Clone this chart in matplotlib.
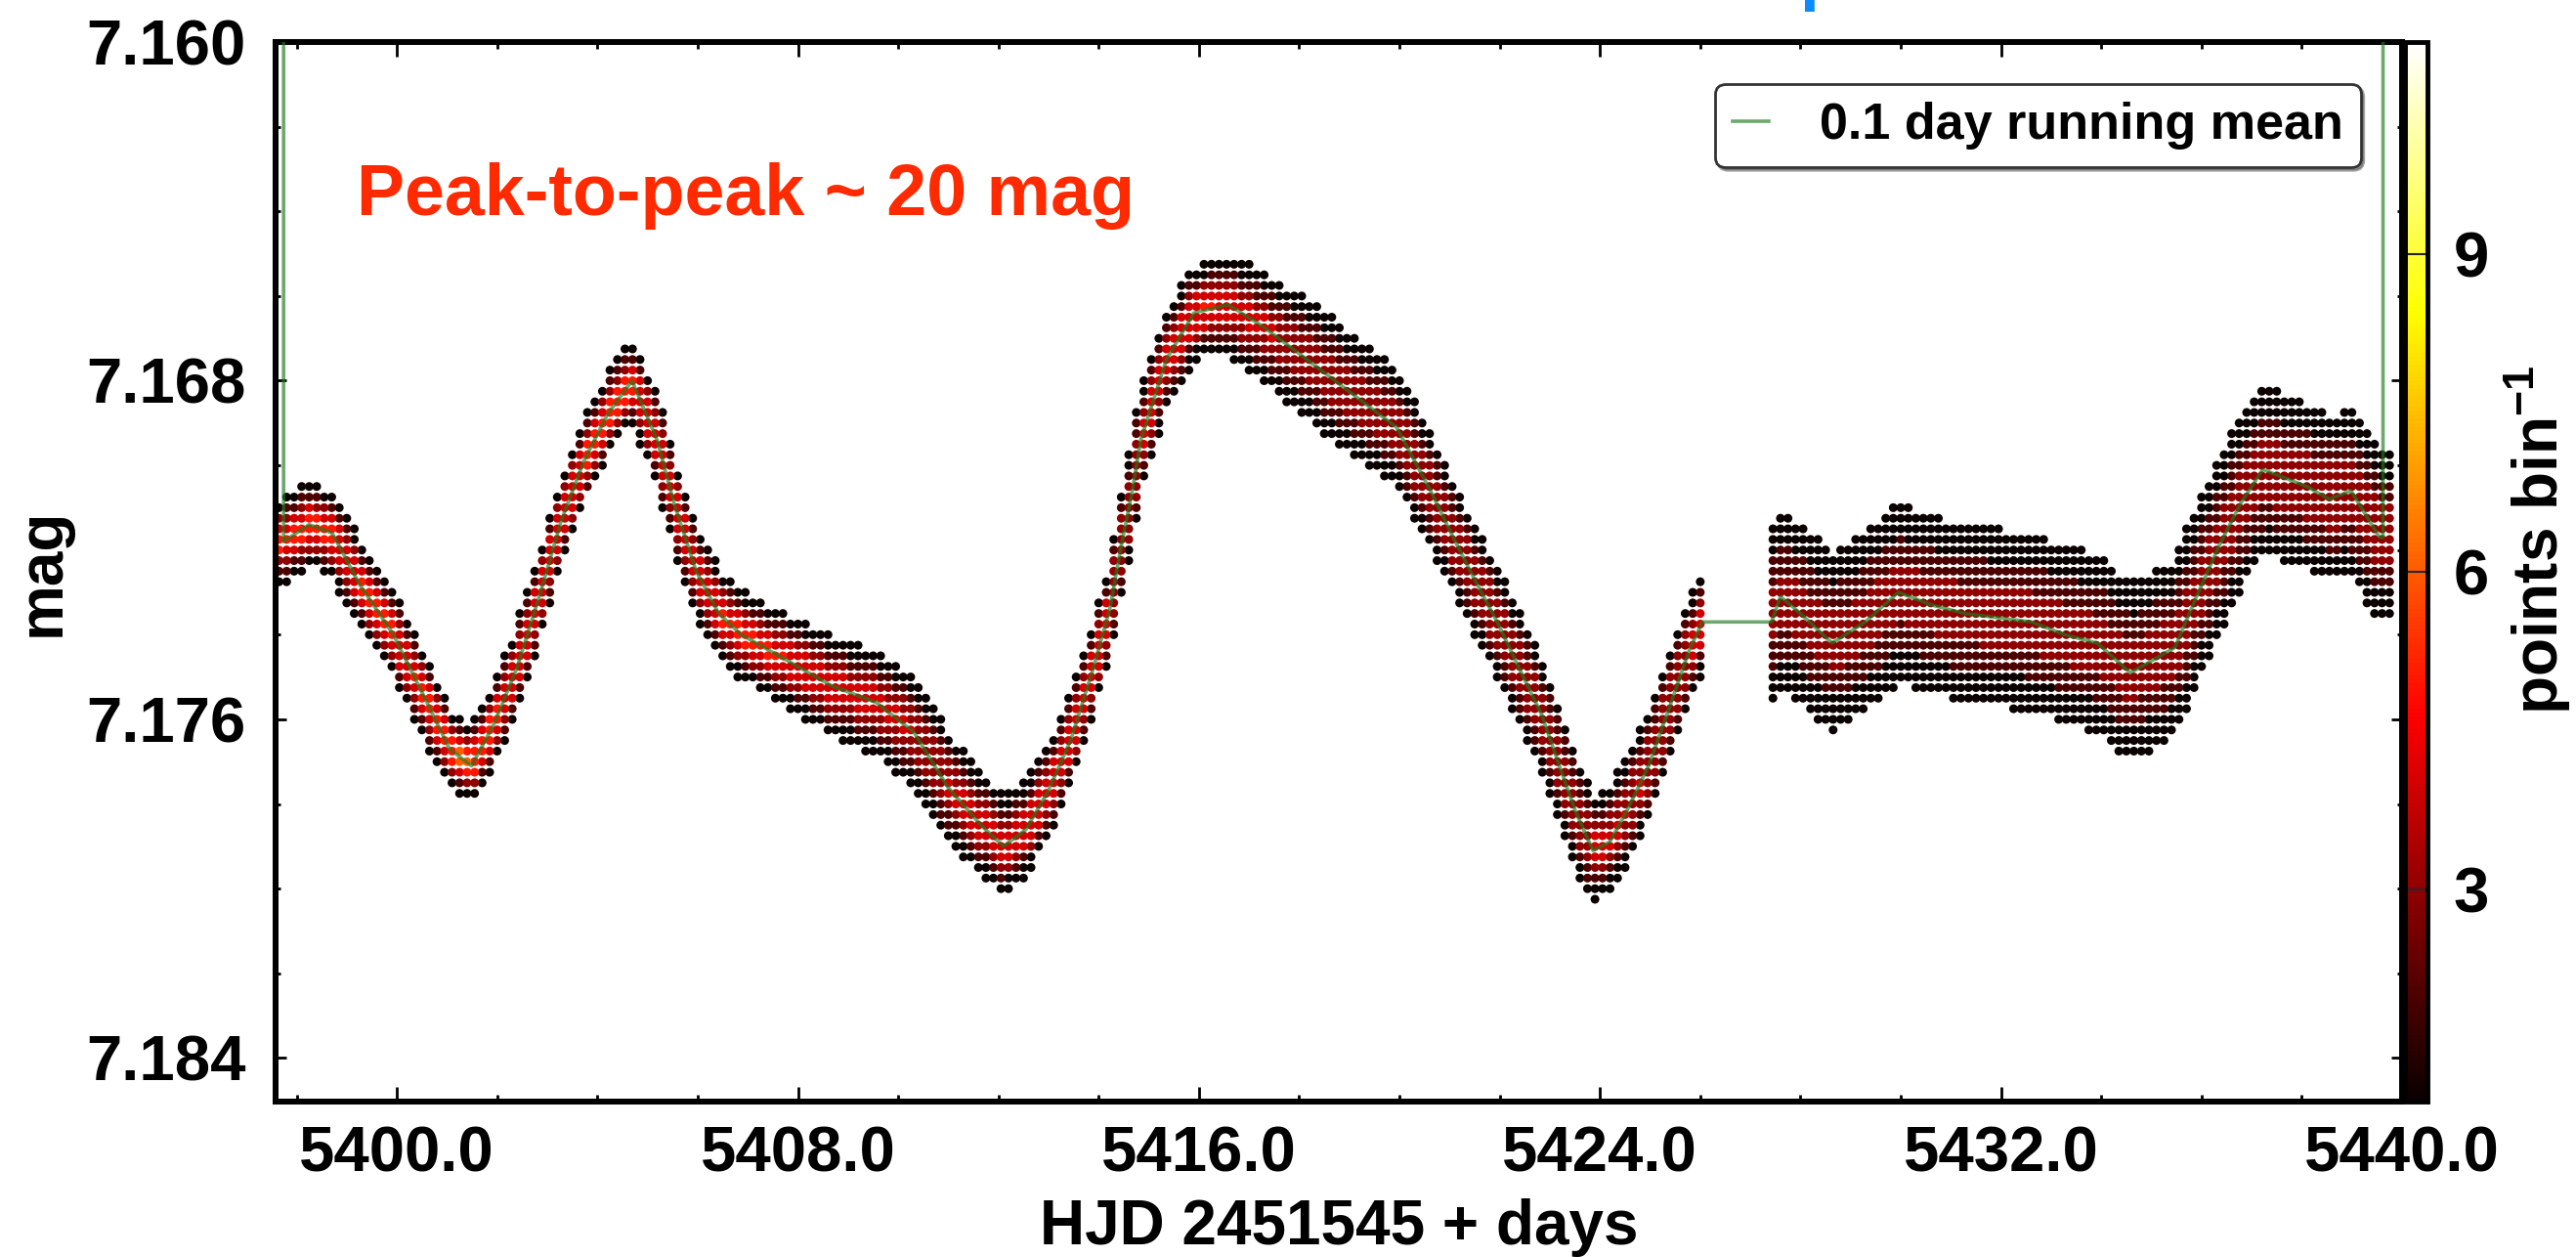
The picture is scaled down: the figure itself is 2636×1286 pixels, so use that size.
import numpy as np
import matplotlib
matplotlib.use("Agg")
import matplotlib.pyplot as plt
from matplotlib.colors import Normalize
from matplotlib.ticker import MultipleLocator, FixedLocator, FormatStrFormatter

plt.rcParams['font.family'] = ['Liberation Sans', 'DejaVu Sans']
plt.rcParams['font.weight'] = 'bold'
plt.rcParams['axes.labelweight'] = 'bold'
plt.rcParams['mathtext.fontset'] = 'custom'
plt.rcParams['mathtext.rm'] = 'Liberation Sans:bold'
plt.rcParams['mathtext.default'] = 'rm'

# 0.1 day running mean (HJD 2451545 + days, mag)
mean_days = [5397.74, 5398.25, 5398.71, 5399.25, 5399.93, 5400.60, 5401.05, 5401.49,
             5401.94, 5402.39, 5402.84, 5403.28, 5403.73, 5404.20, 5404.69, 5405.19,
             5405.53, 5405.97, 5406.42, 5406.87, 5407.77, 5408.66, 5409.56, 5410.31,
             5410.99, 5411.65, 5412.10, 5412.55, 5412.99, 5413.44, 5413.89, 5414.22,
             5414.45, 5414.67, 5414.84, 5415.35, 5415.90, 5416.58, 5417.25, 5417.93,
             5418.60, 5419.27, 5419.94, 5420.62, 5421.07, 5421.50, 5421.95, 5422.39,
             5422.84, 5423.19, 5423.52, 5423.86, 5424.19, 5424.52, 5424.97, 5425.42,
             5425.77, 5426.04, 5427.42, 5427.60, 5428.00, 5428.63, 5429.29, 5429.95,
             5430.62, 5431.28, 5431.94, 5432.61, 5433.27, 5433.92, 5434.58, 5435.03,
             5435.47, 5435.90, 5436.35, 5436.78, 5437.22, 5437.67, 5438.10, 5438.55,
             5438.98, 5439.55, 5439.62]
mean_mag = [7.1718, 7.1714, 7.1716, 7.1728, 7.1740, 7.1756, 7.1767, 7.1771,
            7.1761, 7.1748, 7.1731, 7.1713, 7.1699, 7.1688, 7.1680, 7.1694,
            7.1709, 7.1725, 7.1735, 7.1740, 7.1746, 7.1752, 7.1756, 7.1763,
            7.1776, 7.1785, 7.1790, 7.1786, 7.1777, 7.1765, 7.1748, 7.1734,
            7.1719, 7.1706, 7.1694, 7.1675, 7.1664, 7.1662, 7.1667, 7.1673,
            7.1679, 7.1685, 7.1691, 7.1706, 7.1717, 7.1727, 7.1737, 7.1748,
            7.1759, 7.1771, 7.1782, 7.1791, 7.1789, 7.1782, 7.1771, 7.1756,
            7.1744, 7.1737, 7.1737, 7.1731, 7.1735, 7.1742, 7.1737, 7.1730,
            7.1733, 7.1735, 7.1736, 7.1737, 7.1740, 7.1742, 7.1749, 7.1746,
            7.1743, 7.1731, 7.1719, 7.1709, 7.1701, 7.1703, 7.1705, 7.1708,
            7.1706, 7.1717, 7.1717]
# the running mean shoots off the top of the plot at both ends
mean_edge_mag = 7.150

# scatter of the points about the mean (1 sigma, mag)
spread_days = [5397.70, 5401.50, 5404.70, 5407.50, 5410.50, 5414.00, 5416.50, 5418.50,
               5421.00, 5424.00, 5426.10, 5427.45, 5431.00, 5434.50, 5437.00, 5439.85]
spread_mag = [0.00048, 0.00038, 0.00040, 0.00050, 0.00065, 0.00040, 0.00055, 0.00075,
              0.00060, 0.00060, 0.00050, 0.00110, 0.00110, 0.00110, 0.00100, 0.00100]

# stretches with photometry and roughly how many points fall in one time bin
data_spans = [(5397.65, 5426.10), (5427.45, 5439.85)]
points_per_col = [25, 34]

BIN_DAYS = 0.15
BIN_MAG = 0.00025

X_MIN, X_MAX = 5397.58, 5440.0
Y_TOP, Y_BOTTOM = 7.160, 7.18503


def binned_points():
    rows = np.arange(7.158, 7.188, BIN_MAG)
    xs, ys, counts = [], [], []
    for (start, stop), n_col in zip(data_spans, points_per_col):
        for x in np.arange(start, stop + 1e-9, BIN_DAYS):
            m = np.interp([x - BIN_DAYS / 2, x, x + BIN_DAYS / 2], mean_days, mean_mag)
            lo, hi = m.min(), m.max()
            sig = np.interp(x, spread_days, spread_mag)
            peak = n_col / ((hi - lo) / BIN_MAG + np.sqrt(2 * np.pi) * sig / BIN_MAG)
            d = np.clip(np.maximum(lo - rows, rows - hi), 0, None)
            n = np.rint(peak * np.exp(-0.5 * (d / sig) ** 2))
            keep = n >= 1
            xs.extend([x] * keep.sum())
            ys.extend(rows[keep])
            counts.extend(n[keep])
    xs, ys, counts = map(np.asarray, (xs, ys, counts))
    order = np.argsort(counts, kind='stable')
    return xs[order], ys[order], counts[order]


def main():
    fig = plt.figure(figsize=(26.36, 12.86), dpi=100)
    ax = fig.add_axes([0.10698, 0.12364, 0.82550, 0.84292])
    cax = fig.add_axes([0.93361, 0.12364, 0.00873, 0.84292])

    norm = Normalize(1, 11)
    xs, ys, counts = binned_points()
    ax.scatter(xs, ys, c=counts, cmap='hot', norm=norm, s=42, marker='o',
               linewidths=0, zorder=2)

    line_x = [mean_days[0]] + mean_days + [mean_days[-1]]
    line_y = [mean_edge_mag] + mean_mag + [mean_edge_mag]
    ax.plot(line_x, line_y, color='#1f7a1f', alpha=0.65, lw=2.6,
            label='0.1 day running mean', zorder=3)

    ax.set_xlim(X_MIN, X_MAX)
    ax.set_ylim(Y_BOTTOM, Y_TOP)

    ax.xaxis.set_major_locator(MultipleLocator(8))
    ax.xaxis.set_minor_locator(MultipleLocator(2))
    ax.xaxis.set_major_formatter(FormatStrFormatter('%.1f'))
    ax.yaxis.set_major_locator(FixedLocator([7.160, 7.168, 7.176, 7.184]))
    ax.yaxis.set_minor_locator(MultipleLocator(0.002))
    ax.yaxis.set_major_formatter(FormatStrFormatter('%.3f'))

    ax.tick_params(which='both', direction='in', top=True, right=True,
                   width=2, labelsize=47, color='black')
    ax.tick_params(axis='x', which='major', length=11, pad=18)
    ax.tick_params(axis='x', which='minor', length=5)
    ax.tick_params(axis='y', which='major', length=8, pad=22)
    ax.tick_params(axis='y', which='minor', length=3.5)
    for sp in ax.spines.values():
        sp.set_linewidth(4.3)

    ax.set_xlabel('HJD 2451545 + days', fontsize=46, labelpad=10)
    ax.set_ylabel('mag', fontsize=46, labelpad=10)

    leg = ax.legend(loc='upper right', bbox_to_anchor=(0.9807, 0.9603),
                    borderaxespad=0, fontsize=37.5, handlelength=0.7,
                    handletextpad=1.0, borderpad=0.35, fancybox=True,
                    shadow=True, framealpha=1, edgecolor='0.2')
    leg.get_frame().set_linewidth(2)

    sm = plt.cm.ScalarMappable(norm=norm, cmap='hot')
    cb = fig.colorbar(sm, cax=cax, ticks=[3, 6, 9])
    cb.outline.set_linewidth(3.5)
    cax.tick_params(direction='in', length=16, width=1.5, color='0.15',
                    labelcolor='black', labelsize=47, pad=19)
    cb.set_label('points bin$^{-1}$', fontsize=46, labelpad=10)
    cax.yaxis.label.set_y(0.53)

    fig.text(365 / 2636, 1 - 220 / 1286, 'Peak-to-peak ~ 20 mag', color='#ff2a00',
             fontsize=53, va='baseline', ha='left')
    # tail of a cropped blue caption above the panel
    fig.text(1841 / 2636, 1 + 3 / 1286, 'p', color='#0a8cff', fontsize=52,
             va='baseline', ha='left')

    fig.savefig('out.png', dpi=100)
    plt.close(fig)


if __name__ == '__main__':
    main()
